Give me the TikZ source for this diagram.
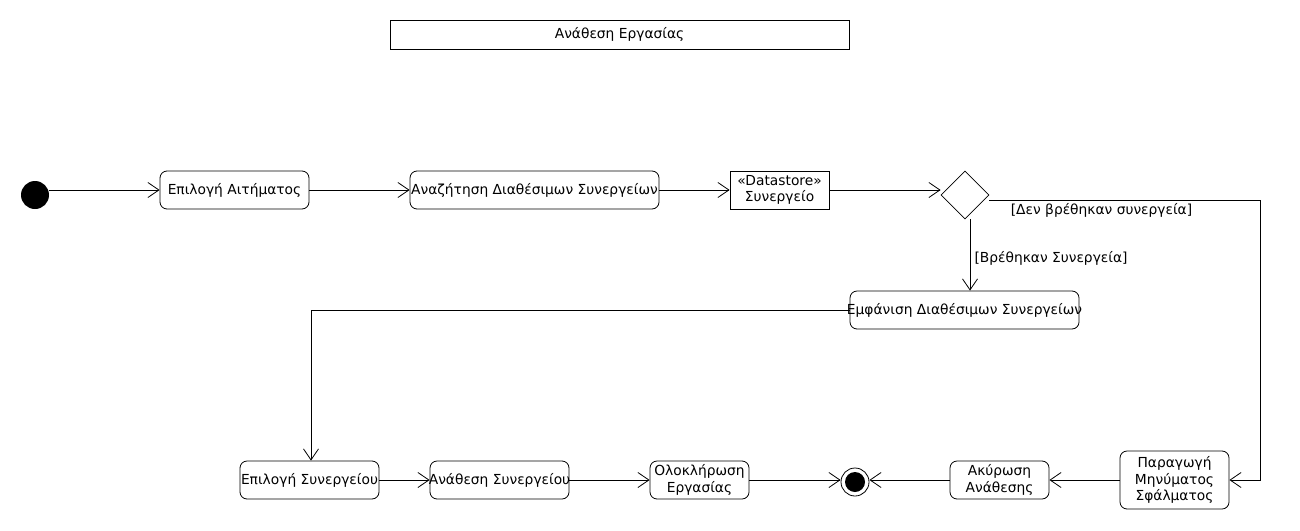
\documentclass[tikz,border=0pt]{standalone}
\usepackage{fontspec}
\setmainfont{DejaVu Sans}
\usetikzlibrary{arrows.meta,shapes.geometric}
\newcommand{\ovtext}[1]{\makebox[0pt]{#1}}
\begin{document}
\begin{tikzpicture}[x=1pt,y=-1pt,
  every node/.style={font=\fontsize{13.8}{16.5}\selectfont},
  act/.style={draw,rounded corners=7pt,line width=0.8pt,minimum height=38pt,inner sep=0pt,align=center},
  plainbox/.style={draw,line width=0.8pt,inner sep=0pt,align=center},
  flow/.style={-{Straight Barb[length=11pt,width=15pt,line width=0.8pt]},line width=0.8pt},
  guard/.style={font=\fontsize{13.8}{16.5}\selectfont,inner sep=1pt}
]
\useasboundingbox (0,0) rectangle (1300,530);
\node[plainbox,minimum width=459pt,minimum height=29pt] (title) at (619.5,34.5) {Ανάθεση Εργασίας};
\node[circle,fill=black,minimum size=28pt,inner sep=0pt] (init) at (35,195) {};
\node[act,minimum width=149pt] (a1) at (234.5,190) {Επιλογή Αιτήματος};
\node[act,minimum width=249pt] (a2) at (534.5,190) {\ovtext{Αναζήτηση Διαθέσιμων Συνεργείων}};
\node[plainbox,minimum width=99pt,minimum height=38pt] (ds) at (779.5,190) {«Datastore»\\Συνεργείο};
\node[diamond,draw,line width=0.8pt,minimum width=48pt,minimum height=48pt,inner sep=0pt] (dec) at (965,195) {};
\node[act,minimum width=229pt] (a3) at (964.5,310) {\ovtext{Εμφάνιση Διαθέσιμων Συνεργείων}};
\node[act,minimum width=139pt] (a4) at (309.5,480) {\ovtext{Επιλογή Συνεργείου}};
\node[act,minimum width=139pt] (a5) at (499.5,480) {\ovtext{Ανάθεση Συνεργείου}};
\node[act,minimum width=99pt] (a6) at (699.5,480) {Ολοκλήρωση\\Εργασίας};
\node[circle,draw,line width=0.8pt,minimum size=28pt,inner sep=0pt] (fin) at (855,482) {};
\node[circle,fill=black,minimum size=20pt,inner sep=0pt] (finin) at (fin.center) {};
\node[act,minimum width=99pt] (a7) at (999.5,480) {Ακύρωση\\Ανάθεσης};
\node[act,minimum width=109pt,minimum height=58pt] (a8) at (1174.5,480) {Παραγωγή\\Μηνύματος\\Σφάλματος};
\coordinate (nb) at (1260,200);
\draw[flow] (init.east |- a1.west) -- (a1.west);
\draw[flow] (a1) -- (a2);
\draw[flow] (a2) -- (ds);
\draw[flow] (ds.east) -- (ds.east -| dec.west);
\draw[flow] (dec.east |- nb) -- (nb) |- (a8.east);
\node[guard] (g1) at (1101.5,210) {[Δεν βρέθηκαν συνεργεία]};
\draw[flow] ([xshift=5pt]dec.south) -- ([xshift=5pt]dec.south |- a3.north);
\node[guard] (g2) at (1051,258) {[Βρέθηκαν Συνεργεία]};
\draw[flow] (a3.west) -| ([xshift=1.5pt]a4.north);
\draw[flow] (a4) -- (a5);
\draw[flow] (a5) -- (a6);
\draw[flow] (a6.east) -- (a6.east -| fin.west);
\draw[flow] (a8) -- (a7);
\draw[flow] (a7.west) -- (a7.west -| fin.east);
\end{tikzpicture}
\end{document}
